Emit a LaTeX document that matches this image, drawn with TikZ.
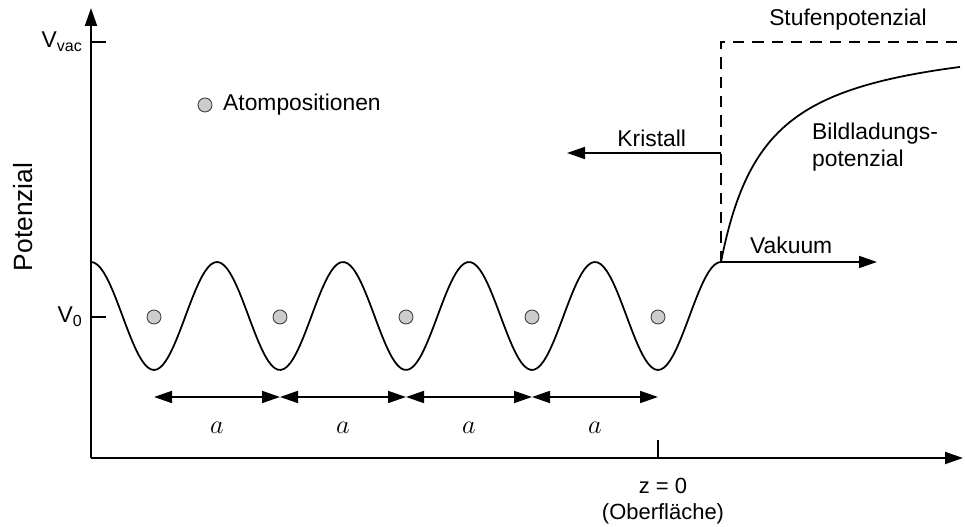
\documentclass[tikz,border=0pt]{standalone}
\usepackage{fontspec}
\setmainfont{Liberation Sans}
\usetikzlibrary{arrows.meta,positioning,calc}

\begin{document}
\begin{tikzpicture}[>={Triangle[length=3.6mm,width=2.4mm]},font=\fontsize{13}{15.5}\selectfont]
  \tikzstyle{axis}=[line width=1.1pt]
  \tikzstyle{curve}=[line width=1pt]
  \tikzstyle{atom}=[circle,draw=black!75,fill=black!20,minimum size=0.28cm,inner sep=0pt,line width=0.5pt]
  \useasboundingbox (-1.82,-1.38) rectangle (17.48,9.16);
  % axes
  \coordinate (O) at (0,0);
  \coordinate (xtip) at (17.44,0);
  \coordinate (ytip) at (0,9.0);
  \draw[->,axis] (O) -- (xtip);
  \draw[->,axis] (O) -- (ytip);
  \node[rotate=90,font=\fontsize{15}{18}\selectfont] (ylabel) at (-1.36,4.82) {Potenzial};
  % ticks on the potential axis
  \coordinate (vvac) at (0,8.32);
  \coordinate (vnull) at (0,2.82);
  \draw[axis] (vvac) -- ++(0.3,0);
  \draw[axis] (vnull) -- ++(0.3,0);
  \node[anchor=base east,inner sep=0pt] (vvaclbl) at (-0.16,8.2) {V\textsubscript{vac}};
  \node[anchor=base east,inner sep=0pt] (vnulllbl) at (-0.16,2.7) {V\textsubscript{0}};
  % surface tick
  \coordinate (zsurf) at (11.34,0);
  \draw[axis] (zsurf) -- ++(0,0.36);
  \node[align=center,font=\fontsize{12.5}{15}\selectfont] (zlbl) at (11.44,-0.86) {z = 0\\(Oberfläche)};
  % periodic crystal potential
  \draw[curve] plot[domain=0:12.6,samples=200] (\x,{2.84+1.08*cos(360*\x/2.52)});
  \foreach \i in {1,...,5}
    \node[atom] (atom\i) at ({1.26+2.52*(\i-1)},2.82) {};
  % lattice constant
  \foreach \i in {1,...,5}
    \coordinate (d\i) at ({1.26+2.52*(\i-1)},1.22);
  \foreach \i/\j in {1/2,2/3,3/4,4/5}
    \draw[<->,curve] (d\i) -- node[midway,yshift=-0.62cm,font=\fontsize{12}{14}\selectfont,scale=1.25] {$a$} (d\j);
  % legend
  \node[atom] (legatom) at (2.28,7.06) {};
  \node[anchor=west] (legtext) at (2.52,7.06) {Atompositionen};
  % step potential
  \coordinate (surf) at (12.6,3.92);
  \coordinate (steptop) at (12.6,8.32);
  \coordinate (stepend) at (17.38,8.32);
  \draw[curve,dash pattern=on 6.5pt off 4.5pt] (surf) -- (steptop) -- (stepend);
  \node (steplbl) at (15.14,8.76) {Stufenpotenzial};
  % image charge potential
  \draw[curve] plot[domain=12.6:17.38,samples=120] (\x,{8.56-4.204/(\x-11.694)});
  \node[anchor=west,align=left] (imglbl) at (14.3,6.22) {Bildladungs-\\potenzial};
  % directions
  \coordinate (kstart) at (12.6,6.1);
  \coordinate (kend) at (9.52,6.1);
  \draw[->,curve] (kstart) -- node[above,pos=0.45] {Kristall} (kend);
  \coordinate (vend) at (15.72,3.92);
  \draw[->,curve] (surf) -- node[above,pos=0.45,yshift=1pt] {Vakuum} (vend);
\end{tikzpicture}
\end{document}
